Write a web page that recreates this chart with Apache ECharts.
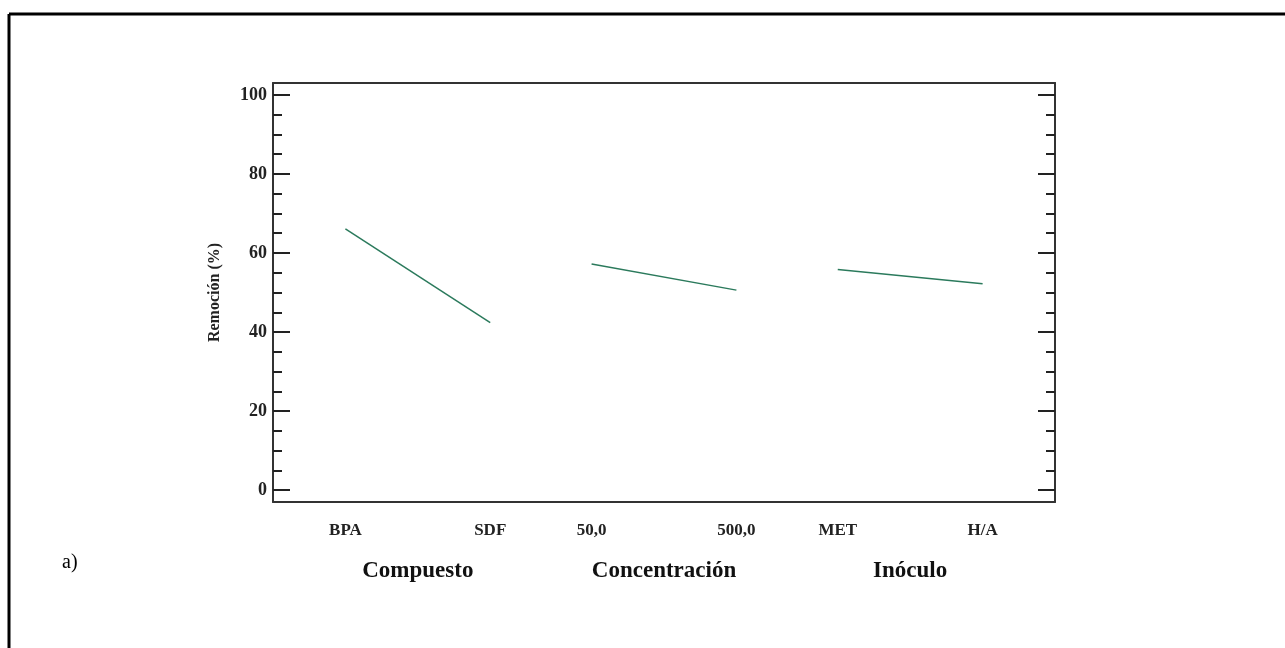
<!DOCTYPE html>
<html>
<head>
<meta charset="utf-8">
<script src="https://cdn.jsdelivr.net/npm/echarts@6/dist/echarts.min.js"></script>
<style>
html,body{margin:0;padding:0;background:#fff;}
#chart{width:1285px;height:648px;}
</style>
</head>
<body>
<div id="chart"></div>
<script>
// ---- data ----
var factors = ['Compuesto', 'Concentración', 'Inóculo'];
var levels = [['BPA', 'SDF'], ['50,0', '500,0'], ['MET', 'H/A']];
var means = [[66.1, 42.4], [57.2, 50.6], [55.8, 52.2]];
var yTickValues = [0, 20, 40, 60, 80, 100];
var yMinorTickValues = [5, 10, 15, 25, 30, 35, 45, 50, 55, 65, 70, 75, 85, 90, 95];
var yAxisName = 'Remoción (%)';
var panelLabel = 'a)';

// ---- layout helpers (axis units) ----
var MARGIN = 0.5, SPAN = 1, GAP = 0.7;
function levelX(f, l) { return MARGIN + f * (SPAN + GAP) + l * SPAN; }
var levelPositions = [], levelNames = [], factorCenters = [];
factors.forEach(function (name, f) {
  levels[f].forEach(function (lv, l) { levelPositions.push(levelX(f, l)); levelNames.push(lv); });
  factorCenters.push(levelX(f, 0) + SPAN / 2);
});
var xMax = 2 * MARGIN + factors.length * SPAN + (factors.length - 1) * GAP;

function lookup(values, names, v) {
  var best = 0, d = Infinity;
  for (var i = 0; i < values.length; i++) {
    var dd = Math.abs(values[i] - v);
    if (dd < d) { d = dd; best = i; }
  }
  return names[best];
}

var serif = "'Liberation Serif', 'Times New Roman', serif";
var axisColor = '#333';
var lineColor = '#2b7a5c';

function yAx(pos, ticks, len, showLine, showLabel) {
  return {
    type: 'value', position: pos, offset: 0, min: -3, max: 103,
    axisLine: { show: showLine, onZero: false, lineStyle: { color: axisColor, width: 2 } },
    axisTick: { show: true, inside: true, length: len, customValues: ticks, lineStyle: { color: '#222', width: 2 } },
    axisLabel: showLabel ? { show: true, customValues: ticks, margin: 6, color: '#222',
      fontFamily: serif, fontWeight: 'bold', fontSize: 18 } : { show: false },
    splitLine: { show: false },
    name: showLabel ? yAxisName : '',
    nameLocation: 'middle', nameGap: 50, nameRotate: 90,
    nameTextStyle: { fontFamily: serif, fontWeight: 'bold', fontSize: 16, color: '#222' }
  };
}

var series = factors.map(function (name, f) {
  return {
    type: 'line', name: name, xAxisIndex: 0, yAxisIndex: 0,
    data: levels[f].map(function (lv, l) { return [levelX(f, l), means[f][l]]; }),
    showSymbol: false, symbol: 'none',
    lineStyle: { color: lineColor, width: 1.5 },
    animation: false
  };
});

var option = {
  backgroundColor: '#fff',
  animation: false,
  grid: { left: 273, right: 230, top: 83, bottom: 146 },
  xAxis: [
    {
      type: 'value', position: 'bottom', min: 0, max: xMax,
      axisLine: { show: true, onZero: false, lineStyle: { color: axisColor, width: 2 } },
      axisTick: { show: false },
      axisLabel: { show: true, customValues: levelPositions, margin: 20,
        formatter: function (v) { return lookup(levelPositions, levelNames, v); },
        color: '#222', fontFamily: serif, fontWeight: 'bold', fontSize: 17 },
      splitLine: { show: false }
    },
    {
      type: 'value', position: 'bottom', offset: 0, min: 0, max: xMax,
      axisLine: { show: false, onZero: false }, axisTick: { show: false },
      axisLabel: { show: true, customValues: factorCenters, margin: 58,
        formatter: function (v) { return lookup(factorCenters, factors, v); },
        color: '#111', fontFamily: serif, fontWeight: 'bold', fontSize: 23 },
      splitLine: { show: false }
    },
    {
      type: 'value', position: 'top', min: 0, max: xMax,
      axisLine: { show: true, onZero: false, lineStyle: { color: axisColor, width: 2 } },
      axisTick: { show: false }, axisLabel: { show: false }, splitLine: { show: false }
    }
  ],
  yAxis: [
    yAx('left', yTickValues, 17, true, true),
    yAx('left', yMinorTickValues, 9, false, false),
    yAx('right', yTickValues, 17, true, false),
    yAx('right', yMinorTickValues, 9, false, false)
  ],
  series: series,
  graphic: [
    { type: 'line', shape: { x1: 9, y1: 14, x2: 1285, y2: 14 }, style: { stroke: '#000', lineWidth: 3 } },
    { type: 'line', shape: { x1: 9, y1: 14, x2: 9, y2: 648 }, style: { stroke: '#000', lineWidth: 3 } },
    { type: 'text', left: 62, top: 553, style: { text: panelLabel, font: '20px ' + serif, fill: '#000' } }
  ]
};

var chart = echarts.init(document.getElementById('chart'), null, { renderer: 'canvas' });
chart.setOption(option);
</script>
</body>
</html>
